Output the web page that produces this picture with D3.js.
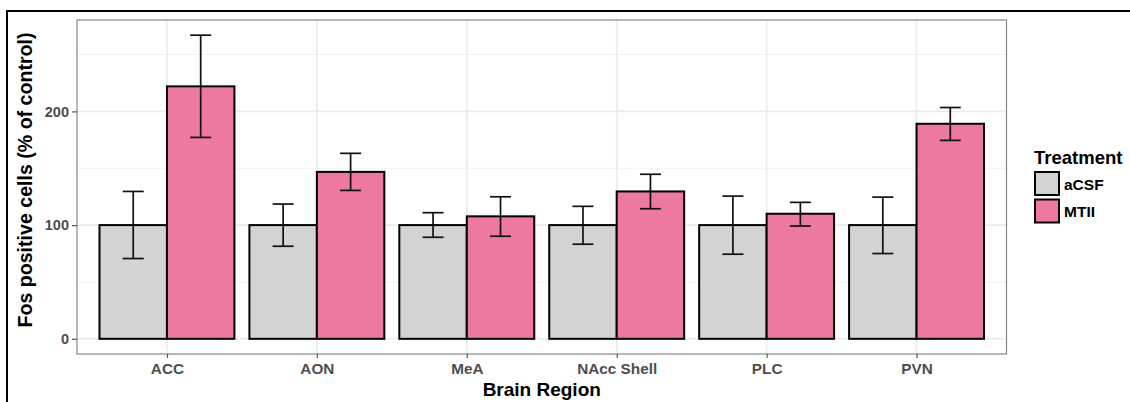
<!DOCTYPE html>
<html lang="en">
<head>
<meta charset="UTF-8" />
<title>Fos positive cells by brain region</title>
<script src="https://cdn.jsdelivr.net/npm/d3@7"></script>
<style>
  body { margin: 0; background: #fff; }
  svg { display: block; font-family: "Liberation Sans", Arial, sans-serif; }
</style>
</head>
<body>
<div id="chart"></div>
<script>
// data
const regions = ["ACC", "AON", "MeA", "NAcc Shell", "PLC", "PVN"];
const treatments = ["aCSF", "MTII"];
const acsfMean = [100, 100, 100, 100, 100, 100];
const acsfLow  = [70.6, 81.4, 89.3, 83.2, 74.4, 75];
const acsfHigh = [129.6, 118.5, 110.9, 116.5, 125.5, 124.6];
const mtiiMean = [222, 146.8, 107.7, 129.6, 110, 189.1];
const mtiiLow  = [177.1, 130.5, 90.2, 114.4, 99.2, 174.5];
const mtiiHigh = [267, 163.1, 124.9, 144.7, 120, 203.4];
const yTicks = [0, 100, 200];
const yMinor = [50, 150, 250];

const W = 1130, H = 402;
const panel = {left: 77, top: 20, right: 1006.5, bottom: 354};
const colors = {aCSF: "#d3d3d3", MTII: "#ee799f"};

const rows = [];
regions.forEach((r, i) => {
  rows.push({region: r, trt: "aCSF", mean: acsfMean[i], lo: acsfLow[i], hi: acsfHigh[i]});
  rows.push({region: r, trt: "MTII", mean: mtiiMean[i], lo: mtiiLow[i], hi: mtiiHigh[i]});
});

const svg = d3.select("#chart").append("svg")
  .attr("width", W).attr("height", H);

// outer frame (cropped on right/bottom)
svg.append("rect")
  .attr("x", 7).attr("y", 11).attr("width", W + 10).attr("height", H + 10)
  .attr("fill", "none").attr("stroke", "#000").attr("stroke-width", 2);

// ggplot-like discrete scale: 0.6 expansion on each side
const step = (panel.right - panel.left) / (regions.length - 1 + 1.2);
const x = d3.scalePoint().domain(regions)
  .range([panel.left + step * 0.6, panel.right - step * 0.6]);
const bw = step * 0.9;
const xSub = d3.scaleBand().domain(treatments).range([-bw / 2, bw / 2]);
const mid = d => x(d.region) + xSub(d.trt) + xSub.bandwidth() / 2;

const y = d3.scaleLinear().domain([-13.35, 280.35]).range([panel.bottom, panel.top]);

const g = svg.append("g");

// grid
g.selectAll("line.minor").data(yMinor).join("line")
  .attr("x1", panel.left).attr("x2", panel.right)
  .attr("y1", d => y(d)).attr("y2", d => y(d))
  .attr("stroke", "#f2f2f2").attr("stroke-width", 1);
g.selectAll("line.major").data(yTicks).join("line")
  .attr("x1", panel.left).attr("x2", panel.right)
  .attr("y1", d => y(d)).attr("y2", d => y(d))
  .attr("stroke", "#ebebeb").attr("stroke-width", 1.6);
g.selectAll("line.vmajor").data(regions).join("line")
  .attr("x1", d => x(d)).attr("x2", d => x(d))
  .attr("y1", panel.top).attr("y2", panel.bottom)
  .attr("stroke", "#ebebeb").attr("stroke-width", 1.6);

// bars
g.selectAll("rect.bar").data(rows).join("rect")
  .attr("x", d => x(d.region) + xSub(d.trt))
  .attr("width", xSub.bandwidth())
  .attr("y", d => y(d.mean))
  .attr("height", d => y(0) - y(d.mean))
  .attr("fill", d => colors[d.trt])
  .attr("stroke", "#000").attr("stroke-width", 2);

// error bars
const capW = 10.5;
const eb = g.selectAll("g.err").data(rows).join("g")
  .attr("stroke", "#111").attr("stroke-width", 1.7);
eb.append("line")
  .attr("x1", mid).attr("x2", mid)
  .attr("y1", d => y(d.lo)).attr("y2", d => y(d.hi));
["lo", "hi"].forEach(k => {
  eb.append("line")
    .attr("x1", d => mid(d) - capW).attr("x2", d => mid(d) + capW)
    .attr("y1", d => y(d[k])).attr("y2", d => y(d[k]));
});

// panel border
svg.append("rect")
  .attr("x", panel.left).attr("y", panel.top)
  .attr("width", panel.right - panel.left).attr("height", panel.bottom - panel.top)
  .attr("fill", "none").attr("stroke", "#888").attr("stroke-width", 1.2);

function styleAxis(sel, size) {
  sel.select(".domain").remove();
  sel.selectAll("line").attr("stroke", "#555").attr("stroke-width", 1.2);
  sel.selectAll("text").attr("fill", "#4d4d4d").attr("font-size", size)
    .attr("font-weight", "bold").attr("font-family", "Liberation Sans, Arial, sans-serif");
}

// y axis
svg.append("g").attr("transform", `translate(${panel.left},0)`)
  .call(d3.axisLeft(y).tickValues(yTicks).tickSize(5).tickPadding(3))
  .call(styleAxis, 14.5);

// x axis
svg.append("g").attr("transform", `translate(0,${panel.bottom})`)
  .call(d3.axisBottom(x).tickSize(4).tickPadding(5))
  .call(styleAxis, 15.3);

// axis titles
svg.append("text")
  .attr("x", (panel.left + panel.right) / 2).attr("y", 396)
  .attr("text-anchor", "middle").attr("font-size", 19).attr("font-weight", "bold")
  .text("Brain Region");
svg.append("text")
  .attr("transform", `translate(32,180) rotate(-90)`)
  .attr("text-anchor", "middle").attr("font-size", 19.6).attr("font-weight", "bold")
  .text("Fos positive cells (% of control)");

// legend
const leg = svg.append("g").attr("transform", "translate(1034,0)");
leg.append("text").attr("x", 0).attr("y", 163.5)
  .attr("font-size", 18.5).attr("font-weight", "bold").text("Treatment");
treatments.forEach((t, i) => {
  leg.append("rect")
    .attr("x", 1).attr("y", 172 + i * 27.5).attr("width", 24).attr("height", 23)
    .attr("fill", colors[t]).attr("stroke", "#000").attr("stroke-width", 2);
  leg.append("text")
    .attr("x", 30).attr("y", 189.5 + i * 27.5)
    .attr("font-size", 15.5).attr("font-weight", "bold").text(t);
});
</script>
</body>
</html>
